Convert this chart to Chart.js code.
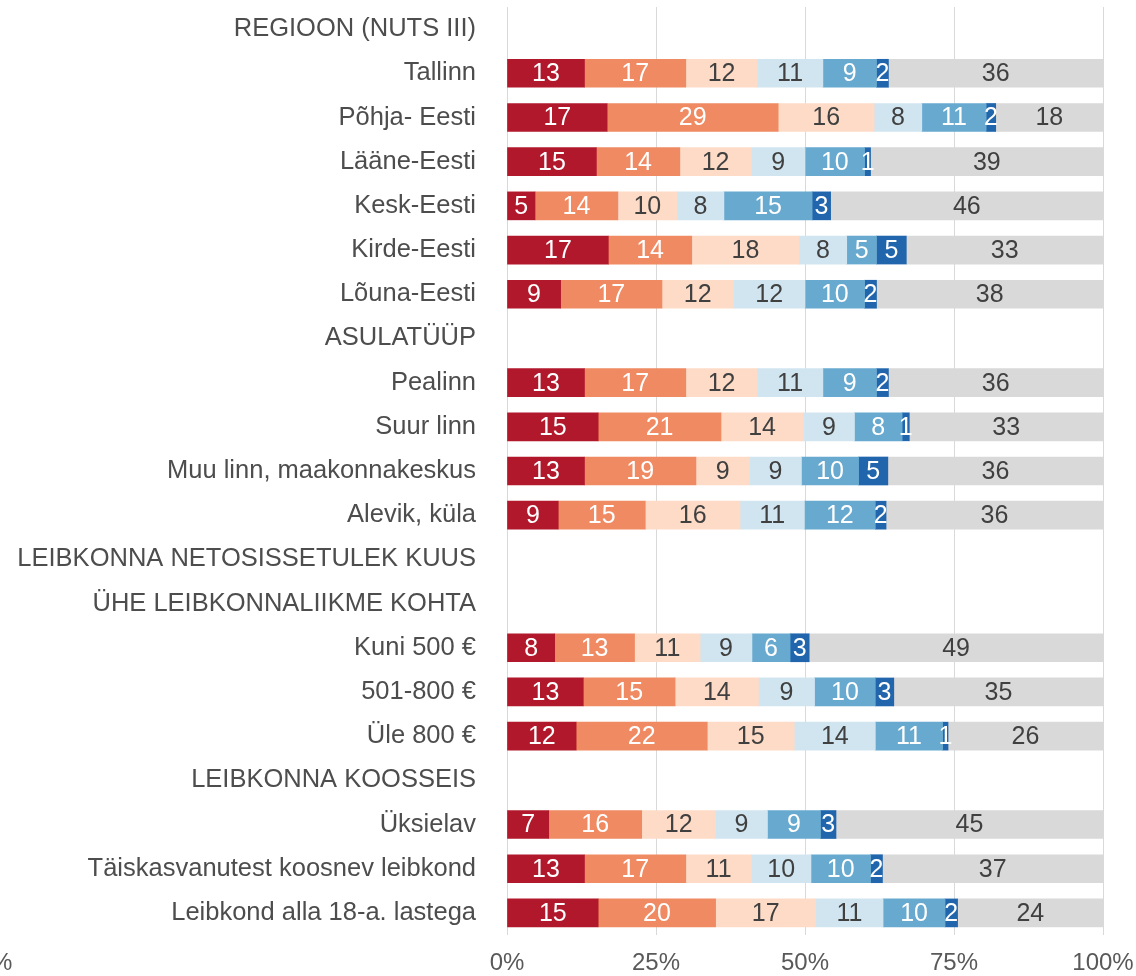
<!DOCTYPE html>
<html>
<head>
<meta charset="utf-8">
<script src="https://cdn.jsdelivr.net/npm/chart.js@4"></script>
<style>
  html, body { margin: 0; padding: 0; background: #fff; }
  #wrap { width: 1136px; height: 976px; }
</style>
</head>
<body>
<div id="wrap"><canvas id="chart" width="1136" height="976"></canvas></div>
<script>
// categories (header rows have no bars)
const categories = [
    'REGIOON (NUTS III)', 'Tallinn', 'Põhja- Eesti', 'Lääne-Eesti', 'Kesk-Eesti', 'Kirde-Eesti', 'Lõuna-Eesti',
    'ASULATÜÜP', 'Pealinn', 'Suur linn', 'Muu linn, maakonnakeskus', 'Alevik, küla',
    'LEIBKONNA NETOSISSETULEK KUUS', 'ÜHE LEIBKONNALIIKME KOHTA', 'Kuni 500 €', '501-800 €', 'Üle 800 €',
    'LEIBKONNA KOOSSEIS', 'Üksielav', 'Täiskasvanutest koosnev leibkond', 'Leibkond alla 18-a. lastega'
];

// series values (%), one entry per category; labels show them rounded
const seg1 = [null, 13, 16.8, 15, 4.7, 17, 9, null, 13, 15.3, 13, 8.6, null, null, 8, 12.8, 11.6, null, 7, 13, 15.3];
const seg2 = [null, 17, 28.7, 14, 13.9, 14, 17, null, 17, 20.6, 18.7, 14.6, null, null, 13.4, 15.4, 22, null, 15.6, 17, 19.7];
const seg3 = [null, 12, 16.1, 12, 9.9, 18, 12, null, 12, 13.8, 9, 15.9, null, null, 11, 14, 14.6, null, 12.4, 11, 16.8];
const seg4 = [null, 11, 8, 9, 7.9, 8, 12, null, 11, 8.6, 8.7, 10.8, null, null, 8.7, 9.4, 13.6, null, 8.7, 10, 11.3];
const seg5 = [null, 9, 10.8, 10, 14.8, 5, 10, null, 9, 8, 9.6, 11.9, null, null, 6.4, 10.2, 11.3, null, 8.9, 10, 10.4];
const seg6 = [null, 2, 1.6, 1, 3.1, 5, 2, null, 2, 1.2, 4.9, 1.8, null, null, 3.2, 3.1, 0.9, null, 2.6, 2, 2.1];
const seg7 = [null, 36, 18, 39, 45.7, 33, 38, null, 36, 32.6, 36.1, 36.4, null, null, 49.3, 35.1, 26, null, 44.9, 37, 24.4];

// x axis ticks
const xTicks = [0, 25, 50, 75, 100];

const segColors = ['#B2182B', '#EF8A62', '#FDDBC7', '#D1E5F0', '#67A9CF', '#2166AC', '#D9D9D9'];
const labelColors = ['#ffffff', '#ffffff', '#404040', '#404040', '#ffffff', '#ffffff', '#404040'];
const FONT = '"Liberation Sans", Arial, sans-serif';

const datasets = [seg1, seg2, seg3, seg4, seg5, seg6, seg7].map((vals, i) => ({
    label: 'seg' + (i + 1),
    data: vals,
    backgroundColor: segColors[i],
    borderWidth: 0,
    barThickness: 28
}));

// draw the rounded number inside every segment
const valueLabels = {
    id: 'valueLabels',
    afterDatasetsDraw(chart) {
        const ctx = chart.ctx;
        ctx.save();
        ctx.font = '25px ' + FONT;
        ctx.textAlign = 'center';
        ctx.textBaseline = 'middle';
        chart.data.datasets.forEach((ds, di) => {
            const meta = chart.getDatasetMeta(di);
            meta.data.forEach((bar, i) => {
                const v = ds.data[i];
                if (v == null) return;
                const x = (bar.base + Math.min(bar.x, chart.chartArea.right)) / 2;
                ctx.fillStyle = labelColors[di];
                ctx.fillText(String(Math.round(v)), x, bar.y + 1);
            });
        });
        ctx.restore();
    }
};

// clipped label left over at the lower left corner
const cornerText = {
    id: 'cornerText',
    afterDraw(chart) {
        const ctx = chart.ctx;
        ctx.save();
        ctx.font = '24px ' + FONT;
        ctx.fillStyle = '#595959';
        ctx.textAlign = 'left';
        ctx.textBaseline = 'middle';
        ctx.fillText('%', -9, 963);
        ctx.restore();
    }
};

new Chart(document.getElementById('chart'), {
    type: 'bar',
    data: { labels: categories, datasets: datasets },
    plugins: [valueLabels, cornerText],
    options: {
        indexAxis: 'y',
        responsive: false,
        animation: false,
        layout: { padding: { top: 7, right: 33, bottom: 0, left: 0 } },
        plugins: { legend: { display: false }, tooltip: { enabled: false } },
        scales: {
            x: {
                stacked: true,
                min: 0,
                max: 100,
                afterBuildTicks: (scale) => { scale.ticks = xTicks.map(v => ({ value: v })); },
                afterFit: (scale) => {
                    scale.height = 41;
                    scale.paddingLeft = 0;
                    scale.paddingRight = 0;
                },
                grid: { color: '#D9D9D9', lineWidth: 1, tickLength: 0 },
                border: { display: false },
                ticks: {
                    padding: 14,
                    maxRotation: 0,
                    color: '#595959',
                    font: { family: FONT, size: 24 },
                    callback: v => v + '%'
                }
            },
            y: {
                stacked: true,
                afterFit: (scale) => {
                    scale.width = 507;
                    scale.paddingTop = 0;
                    scale.paddingBottom = 0;
                },
                grid: { display: false },
                border: { display: false },
                ticks: {
                    padding: 23,
                    autoSkip: false,
                    color: '#4D4D4D',
                    font: { family: FONT, size: 25.5 }
                }
            }
        }
    }
});
</script>
</body>
</html>
